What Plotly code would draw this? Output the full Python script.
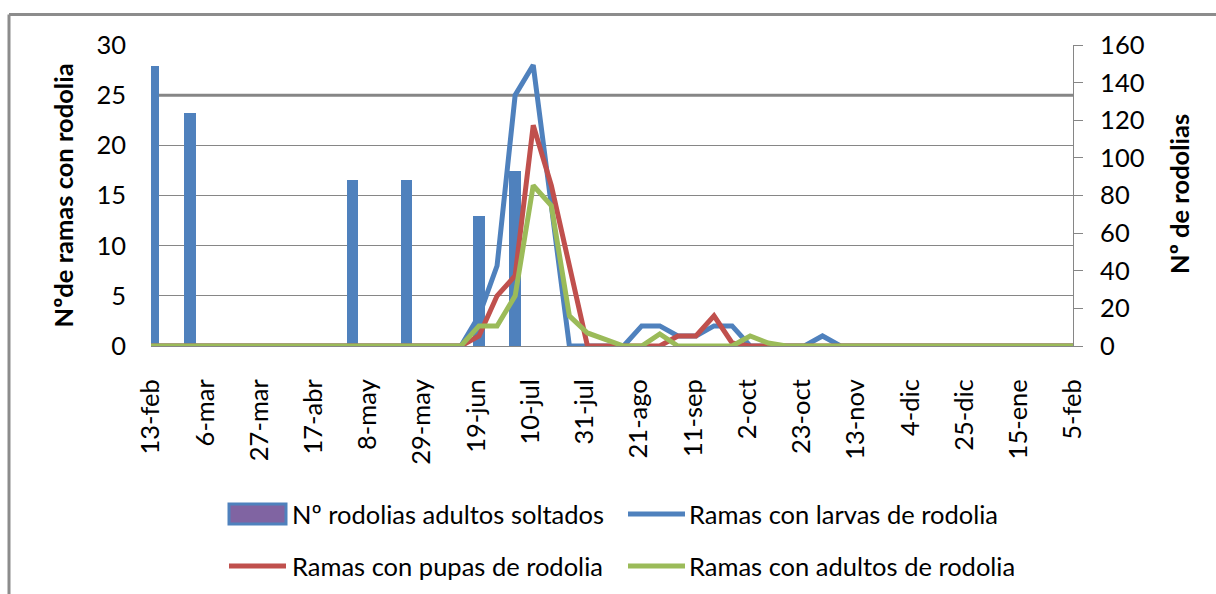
import plotly.graph_objects as go

# Sampling dates for the branch counts (left axis)
LINE_DATES = ["2010-02-13", "2010-06-13", "2010-06-20", "2010-06-27", "2010-07-04",
              "2010-07-11", "2010-07-18", "2010-07-25", "2010-08-01", "2010-08-08",
              "2010-08-15", "2010-08-22", "2010-08-29", "2010-09-05", "2010-09-12",
              "2010-09-19", "2010-09-26", "2010-10-03", "2010-10-10", "2010-10-17",
              "2010-10-24", "2010-10-31", "2010-11-07", "2011-02-05"]
LARVAS = [0, 0, 3, 8, 25, 28, 14, 0, 0, 0, 0, 2, 2, 1, 1, 2, 2, 0, 0, 0, 0, 1, 0, 0]
PUPAS = [0, 0, 1, 5, 7, 22, 16, 8, 0, 0, 0, 0, 0, 1, 1, 3, 0.3, 0, 0, 0, 0, 0, 0, 0]
ADULTOS = [0, 0, 2, 2, 5, 16, 14, 3, 1.3, 0.6, 0, 0, 1.2, 0, 0, 0, 0, 1.0, 0.3, 0, 0, 0, 0, 0]

# Release dates and number of adult rodolias released (right axis)
BAR_DATES = ["2010-02-14", "2010-02-28", "2010-05-02", "2010-05-23", "2010-06-20", "2010-07-04"]
SOLTADOS = [149, 124, 88, 88, 69, 93]

TICK_DATES = ["2010-02-13", "2010-03-06", "2010-03-27", "2010-04-17", "2010-05-08",
              "2010-05-29", "2010-06-19", "2010-07-10", "2010-07-31", "2010-08-21",
              "2010-09-11", "2010-10-02", "2010-10-23", "2010-11-13", "2010-12-04",
              "2010-12-25", "2011-01-15", "2011-02-05"]
TICK_TEXT = ["13-feb", "6-mar", "27-mar", "17-abr", "8-may", "29-may", "19-jun", "10-jul",
             "31-jul", "21-ago", "11-sep", "2-oct", "23-oct", "13-nov", "4-dic", "25-dic",
             "15-ene", "5-feb"]

BLUE, RED, GREEN, PURPLE = "#4F81BD", "#C0504D", "#9BBB59", "#8064A2"
GRID = "#868686"
FONT = "Lato"
FS = 25.5

W, H = 1216, 594
L, R, T, B = 151, 1073, 45, 346  # plot area in pixels


def px(x):
    return (x - L) / (R - L)


def py(y):
    return (B - y) / (B - T)


fig = go.Figure()

fig.add_trace(go.Bar(
    x=BAR_DATES, y=SOLTADOS, name="Nº rodolias adultos soltados",
    marker=dict(color=BLUE, line_width=0), width=4.5 * 86400000, yaxis="y",
))
for name, vals, color in [("Ramas con larvas de rodolia", LARVAS, BLUE),
                          ("Ramas con pupas de rodolia", PUPAS, RED),
                          ("Ramas con adultos de rodolia", ADULTOS, GREEN)]:
    fig.add_trace(go.Scatter(
        x=LINE_DATES, y=vals, name=name, mode="lines", yaxis="y2",
        line=dict(color=color, width=5),
    ))

shapes = [
    # darker line at 25
    dict(type="line", xref="paper", yref="y2", x0=0, x1=1, y0=25, y1=25,
         line=dict(color=GRID, width=3), layer="below"),
    # outer chart frame
    dict(type="line", xref="paper", yref="paper", x0=px(9), x1=px(9), y0=py(14.5), y1=py(600),
         line=dict(color="#8C8C8C", width=3)),
    dict(type="line", xref="paper", yref="paper", x0=px(9), x1=px(1220), y0=py(14.5), y1=py(14.5),
         line=dict(color="#8C8C8C", width=3)),
    # legend swatches
    dict(type="rect", xref="paper", yref="paper", x0=px(229), x1=px(286), y0=py(504), y1=py(524),
         fillcolor=PURPLE, line=dict(color=BLUE, width=3)),
    dict(type="line", xref="paper", yref="paper", x0=px(628), x1=px(685), y0=py(514), y1=py(514),
         line=dict(color=BLUE, width=5)),
    dict(type="line", xref="paper", yref="paper", x0=px(229), x1=px(286), y0=py(566), y1=py(566),
         line=dict(color=RED, width=5)),
    dict(type="line", xref="paper", yref="paper", x0=px(628), x1=px(685), y0=py(566), y1=py(566),
         line=dict(color=GREEN, width=5)),
]

annotations = [
    dict(text="<b>Nºde ramas con rodolia</b>", x=px(62), y=py(195.5), textangle=-90),
    dict(text="<b>Nº de rodolias</b>", x=px(1179), y=py(194), textangle=-90),
    dict(text="Nº rodolias adultos soltados", x=px(290), y=py(514), xanchor="left"),
    dict(text="Ramas con larvas de rodolia", x=px(687), y=py(514), xanchor="left"),
    dict(text="Ramas con pupas de rodolia", x=px(290), y=py(566), xanchor="left"),
    dict(text="Ramas con adultos de rodolia", x=px(687), y=py(566), xanchor="left"),
]
for a in annotations:
    a.update(xref="paper", yref="paper", showarrow=False, yanchor="middle",
             font=dict(family=FONT, size=FS, color="black"))
    a.setdefault("xanchor", "center")

fig.update_layout(
    width=W, height=H,
    margin=dict(l=L, r=W - R, t=T, b=H - B, pad=0),
    paper_bgcolor="white", plot_bgcolor="white",
    showlegend=False, bargap=0,
    font=dict(family=FONT, size=FS, color="black"),
    xaxis=dict(
        type="date", range=["2010-02-13", "2011-02-05"],
        tickvals=TICK_DATES, ticktext=TICK_TEXT, tickangle=-90,
        showgrid=False, zeroline=False, showline=True, linecolor=GRID, linewidth=1,
        ticks="", ticklabelstandoff=22,
        tickfont=dict(family=FONT, size=FS, color="black"),
    ),
    yaxis=dict(
        side="right", range=[0, 160], dtick=20, tick0=0,
        showgrid=False, zeroline=False, showline=True, linecolor=GRID, linewidth=1,
        ticks="outside", ticklen=9, tickcolor=GRID, ticklabelstandoff=12,
        tickfont=dict(family=FONT, size=FS, color="black"),
    ),
    yaxis2=dict(
        overlaying="y", side="left", range=[0, 30], dtick=5, tick0=0,
        showgrid=True, gridcolor=GRID, gridwidth=1, zeroline=False, showline=False,
        ticks="", ticklabelstandoff=24,
        tickfont=dict(family=FONT, size=FS, color="black"),
    ),
    shapes=shapes, annotations=annotations,
)

# drop the default 8px page margin so the chart sits at the window origin
fig.write_html("out.html", config={"displayModeBar": False},
               post_script="document.body.style.margin='0';")
